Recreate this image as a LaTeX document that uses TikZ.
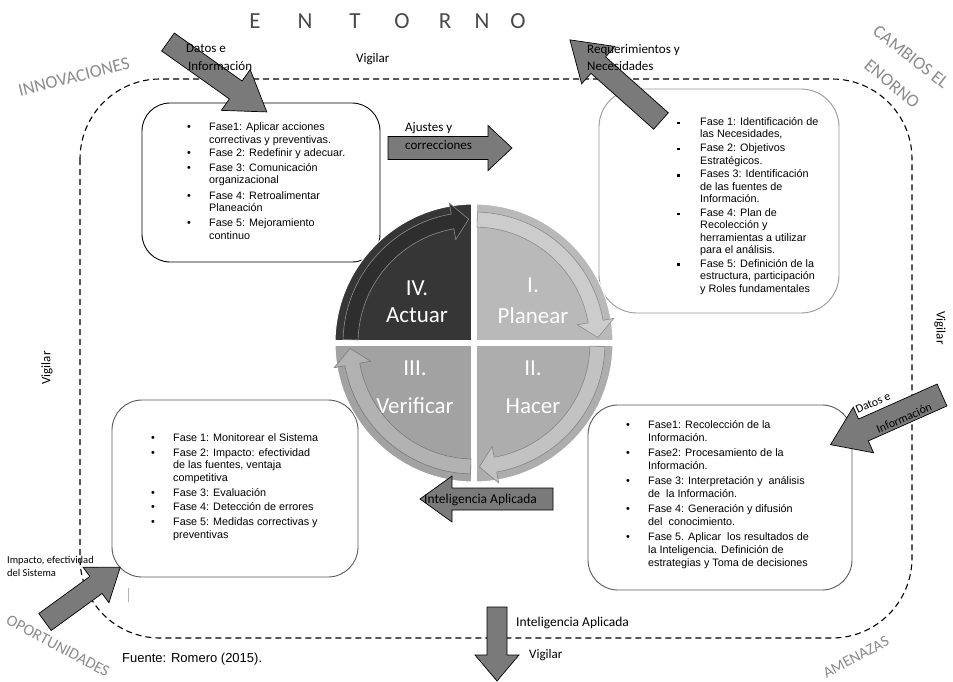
\documentclass[tikz,border=0pt]{standalone}
\usepackage{fontspec}
\setmainfont{Liberation Sans}
\newfontfamily\carl{Carlito}
\usepackage{array}

\definecolor{arrowgray}{HTML}{7A7A7A}
\definecolor{sidegray}{HTML}{8C8C8C}
\definecolor{titlegray}{HTML}{4A4A4A}
\definecolor{qfour}{HTML}{363636}
\definecolor{qone}{HTML}{B9B9B9}
\definecolor{qtwo}{HTML}{ADADAD}
\definecolor{qthree}{HTML}{A2A2A2}

% block arrow: tail x, tail y, direction (deg, clockwise on the page),
% length, shaft half width, head half width, head length
\newcommand\blockarrow[7]{%
  \begin{scope}[shift={(#1,#2)},rotate={-(#3)}]
    \draw[barrow] (0,-#5) -- ({#4-#7},-#5) -- ({#4-#7},-#6) -- (#4,0)
      -- ({#4-#7},#6) -- ({#4-#7},#5) -- (0,#5) -- cycle;
  \end{scope}}

% curved arrow running clockwise through one quarter of the cycle
\newcommand\quadarrow[3]{%
  \filldraw[fill=#2, draw=#3, line width=0.6pt, line join=miter]
    ({#1+1.5}:116) -- ({#1+1.5}:131)
    arc[start angle={#1+1.5}, end angle={#1+80}, radius=131]
    -- ({#1+80}:142) -- ({#1+87.5}:124) -- ({#1+80}:105) -- ({#1+80}:116)
    arc[start angle={#1+80}, end angle={#1+1.5}, radius=116] -- cycle;}

\newcommand\sqbullet[1]{\rule[1.3pt]{#1}{#1}}

\begin{document}
\begin{tikzpicture}[x=1pt,y=-1pt,
  phasebox/.style={draw=#1, line width=0.9pt, fill=white, rectangle, rounded corners=30pt, inner sep=0pt},
  barrow/.style={draw=black, fill=arrowgray, line width=0.7pt, line join=miter},
  arrlabel/.style={font=\carl\fontsize{13}{15}\selectfont, inner sep=0pt, anchor=base west},
  watch/.style={font=\carl\fontsize{13}{15}\selectfont, inner sep=0pt},
  sidelabel/.style={font=\carl\fontsize{18}{20}\selectfont, text=sidegray, inner sep=0pt},
  cycletext/.style={font=\carl\fontsize{23}{27}\selectfont, text=white, inner sep=0pt, anchor=base},
  titleletter/.style={font=\carl\fontsize{23}{27}\selectfont, text=titlegray, inner sep=0pt, anchor=base},
  phasetext/.style={inner sep=0pt, anchor=base west}
]
\useasboundingbox (0,0) rectangle (953,681);
\fill[white] (0,0) rectangle (953,681);

% environment boundary
\draw[dash pattern=on 6pt off 4pt, line width=1.1pt, rounded corners=80pt] (80,79) rectangle (912,638);

% title
\node[titleletter] (tE) at (255,28) {E};
\node[titleletter] (tN) at (305,28) {N};
\node[titleletter] (tT) at (355,28) {T};
\node[titleletter] (tO) at (402,28) {O};
\node[titleletter] (tR) at (445,28) {R};
\node[titleletter] (tN2) at (482,28) {N};
\node[titleletter] (tO2) at (518,28) {O};

% corner labels
\node[sidelabel, rotate=14] (innov) at (74,77) {INNOVACIONES};
\node[sidelabel, rotate=-38] (camb) at (911,57) {CAMBIOS EL};
\node[sidelabel, rotate=-40] (enorno) at (892,84) {ENORNO};
\node[sidelabel, rotate=-28, font=\carl\fontsize{16}{18}\selectfont] (oport) at (58,646) {OPORTUNIDADES};
\node[sidelabel, rotate=28, font=\carl\fontsize{15.5}{18}\selectfont] (amen) at (856,657) {AMENAZAS};

% watch labels
\node[watch, anchor=base west] (vigTop) at (356,62) {Vigilar};
\node[watch, rotate=90] (vigLeft) at (47,368) {Vigilar};
\node[watch, rotate=-90] (vigRight) at (940,328) {Vigilar};
\node[watch, anchor=base west] (vigBot) at (529,658) {Vigilar};

% phase boxes
\node[phasebox=black, minimum width=238pt, minimum height=159pt, rounded corners=28pt] (boxAct) at (261,182.5) {};
\node[phasebox=gray!80, minimum width=240pt, minimum height=224pt, rounded corners=38pt] (boxPlan) at (719,201) {};
\node[phasebox=black!65, minimum width=246pt, minimum height=177pt] (boxVer) at (235,488.5) {};
\node[phasebox=black!65, minimum width=264pt, minimum height=185pt] (boxHac) at (720,497.5) {};

\node[phasetext, font=\fontsize{10.8}{12.6}\selectfont] (txtAct) at (187,130.5) {%
\begin{tabular}[t]{@{}p{22pt}@{}l@{}}
\textbullet & Fase1: Aplicar acciones\\
 & correctivas y preventivas.\\[0.5pt]
\textbullet & Fase 2: Redefinir y adecuar.\\[2.4pt]
\textbullet & Fase 3: Comunicación\\
 & organizacional\\[2.6pt]
\textbullet & Fase 4: Retroalimentar\\
 & Planeación\\[2.4pt]
\textbullet & Fase 5: Mejoramiento\\
 & continuo
\end{tabular}};

\node[phasetext, font=\fontsize{10.8}{12.4}\selectfont] (txtPlan) at (676.7,125.5) {%
\begin{tabular}[t]{@{}p{23.3pt}@{}l@{}}
\sqbullet{2.6pt} & Fase 1: Identificación de\\
 & las Necesidades,\\[1.4pt]
\sqbullet{2.6pt} & Fase 2: Objetivos\\
 & Estratégicos.\\[1.4pt]
\sqbullet{2.6pt} & Fases 3: Identificación\\
 & de las fuentes de\\
 & Información.\\[1.4pt]
\sqbullet{2.6pt} & Fase 4: Plan de\\
 & Recolección y\\
 & herramientas a utilizar\\
 & para el análisis.\\[1.4pt]
\sqbullet{3.4pt} & Fase 5: Definición de la\\
 & estructura, participación\\
 & y Roles fundamentales
\end{tabular}};

\node[phasetext, font=\fontsize{10.8}{13.2}\selectfont] (txtHac) at (626,428.5) {%
\begin{tabular}[t]{@{}p{22pt}@{}l@{}}
\textbullet & Fase1: Recolección de la\\
 & Información.\\[1.6pt]
\textbullet & Fase2: Procesamiento de la\\
 & Información.\\[1.6pt]
\textbullet & Fase 3: Interpretación y\ \ análisis\\
 & de\ \ la Información.\\[1.6pt]
\textbullet & Fase 4: Generación y difusión\\
 & del\ \ conocimiento.\\[1.6pt]
\textbullet & Fase 5. Aplicar\ \ los resultados de\\
 & la Inteligencia. Definición de\\
 & estrategias y Toma de decisiones
\end{tabular}};

\node[phasetext, font=\fontsize{10.8}{12.8}\selectfont] (txtVer) at (151,441.5) {%
\begin{tabular}[t]{@{}p{22pt}@{}l@{}}
\textbullet & Fase 1: Monitorear el Sistema\\[1.8pt]
\textbullet & Fase 2: Impacto: efectividad\\
 & de las fuentes, ventaja\\
 & competitiva\\[1.8pt]
\textbullet & Fase 3: Evaluación\\[1.8pt]
\textbullet & Fase 4: Detección de errores\\[1.8pt]
\textbullet & Fase 5: Medidas correctivas y\\
 & preventivas
\end{tabular}};

% PDCA cycle
\begin{scope}[shift={(474,343)}]
  \filldraw[fill=qfour, draw=white, line width=1pt] (0,0) -- (180:139) arc[start angle=180, end angle=270, radius=139] -- cycle;
  \filldraw[fill=qone, draw=white, line width=1pt] (0,0) -- (270:139) arc[start angle=270, end angle=360, radius=139] -- cycle;
  \filldraw[fill=qtwo, draw=white, line width=1pt] (0,0) -- (0:139) arc[start angle=0, end angle=90, radius=139] -- cycle;
  \filldraw[fill=qthree, draw=white, line width=1pt] (0,0) -- (90:139) arc[start angle=90, end angle=180, radius=139] -- cycle;
  \draw[white, line width=6.5pt] (-146,0) -- (146,0) (0,-146) -- (0,146);
  \quadarrow{180}{black!82}{black!45}
  \quadarrow{270}{black!20}{black!45}
  \quadarrow{0}{black!24}{black!48}
  \quadarrow{90}{black!30}{black!52}
\end{scope}

\node[cycletext] (actA) at (417,295) {IV.};
\node[cycletext] (actB) at (417,322) {Actuar};
\node[cycletext] (plaA) at (533,292) {I.};
\node[cycletext] (plaB) at (533,323) {Planear};
\node[cycletext] (verA) at (415,375) {III.};
\node[cycletext] (verB) at (415,413) {Verificar};
\node[cycletext] (hacA) at (533,375) {II.};
\node[cycletext] (hacB) at (533,413) {Hacer};

% flows
\blockarrow{168}{42}{35.3}{121}{11}{25}{38}
\blockarrow{661}{121}{-138.3}{122}{11}{25}{38}
\blockarrow{388}{148}{0}{124}{11.5}{22.5}{24}
\blockarrow{942}{395}{156}{122}{12}{25}{36}
\blockarrow{553}{499}{180}{133}{11}{23}{32}
\blockarrow{497}{607}{90}{74}{10}{22}{26}
\blockarrow{45}{622}{-36}{93}{10.5}{22}{30}

\draw[gray!60, line width=1pt] (128,588) -- (128,602);

% flow labels
\node[arrlabel] (datA1) at (186,52) {Datos e};
\node[arrlabel] (datA2) at (188,70) {Información};
\node[arrlabel] (reqA1) at (587,53) {Requerimientos y};
\node[arrlabel] (reqA2) at (587,70) {Necesidades};
\node[arrlabel] (ajuA1) at (405,131) {Ajustes y};
\node[arrlabel] (ajuA2) at (405,149) {correcciones};
\node[arrlabel, font=\carl\fontsize{12}{14}\selectfont, rotate=24, anchor=center] (datB1) at (873,403) {Datos e};
\node[arrlabel, font=\carl\fontsize{12}{14}\selectfont, rotate=24, anchor=center] (datB2) at (904,418) {Información};
\node[arrlabel, font=\carl\fontsize{13.5}{15}\selectfont] (intA) at (424,503) {Inteligencia Aplicada};
\node[arrlabel, font=\carl\fontsize{13.5}{15}\selectfont] (intB) at (516,626) {Inteligencia Aplicada};
\node[arrlabel, font=\carl\fontsize{10.5}{12}\selectfont] (impA1) at (7,563) {Impacto, efectividad};
\node[arrlabel, font=\carl\fontsize{10.5}{12}\selectfont] (impA2) at (7,576) {del Sistema};

% source
\node[inner sep=0pt, anchor=base west, font=\fontsize{13}{15}\selectfont] (fuente) at (122,662) {Fuente: Romero (2015).};
\end{tikzpicture}
\end{document}
